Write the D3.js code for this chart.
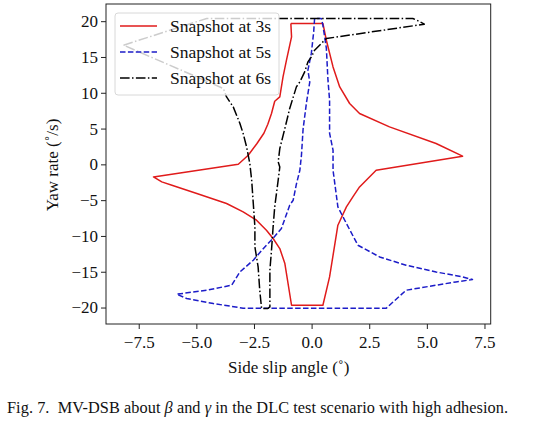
<!DOCTYPE html>
<html>
<head>
<meta charset="utf-8">
<script src="https://cdn.jsdelivr.net/npm/d3@7/dist/d3.min.js"></script>
<style>
  html, body { margin: 0; padding: 0; background: #fff; }
  svg { display: block; }
</style>
</head>
<body>
<svg id="chart" width="536" height="426" font-family="Liberation Serif, Times New Roman, serif"></svg>
<script>
// ---- Data ----
const seriesNames = ["Snapshot at 3s", "Snapshot at 5s", "Snapshot at 6s"];

// Snapshot at 3s (red, solid) - closed boundary
const redX = [-0.90, -0.87, -1.09, -1.24, -1.38, -1.60, -1.74, -1.90, -2.07, -2.37, -2.75, -3.18,
  -6.86, -6.50, -6.06, -4.98, -3.69, -2.97, -2.39, -1.96, -1.67, -1.38, -1.16, -0.87,
  0.49, 0.78, 1.14, 1.51, 1.79, 2.08, 2.80, 6.55, 5.40, 3.38, 2.08, 1.65, 1.22, 0.93, 0.64, 0.49, -0.90];
const redY = [19.68, 17.81, 14.55, 12.22, 9.42, 8.82, 7.10, 5.61, 4.35, 2.91, 1.28, 0.02,
  -1.75, -2.45, -2.91, -4.07, -5.47, -6.64, -7.80, -9.20, -10.36, -11.76, -13.85, -19.68,
  -19.68, -15.72, -8.50, -5.94, -4.55, -3.15, -0.82, 1.14, 2.91, 5.23, 7.10, 8.50, 10.82, 13.61, 17.34, 19.68, 19.68];

// Snapshot at 5s (blue, dashed)
const blueX = [0.13, 0.09, -0.01, -0.16, -0.08, -0.22, -0.37, -0.44, -0.51, -0.66, -0.80, -0.95,
  -1.31, -1.67, -2.03, -2.53, -3.11, -3.47, -4.55, -5.85, -5.42, -4.26, -2.97, 3.24, 3.38,
  4.10, 6.26, 6.98, 6.55, 5.40, 4.10, 2.95, 2.01, 1.51, 1.14, 0.93, 0.93, 0.78, 0.78, 0.71, 0.64, 0.49, 0.42, 0.13];
const blueY = [20.38, 18.50, 15.53, 13.15, 11.48, 8.68, 4.91, 1.28, -0.82, -2.77, -5.01, -5.71,
  -8.96, -10.32, -11.53, -13.39, -15.03, -16.88, -17.58, -18.14, -18.74, -19.44, -20.10, -20.10, -19.68,
  -17.58, -16.42, -16.09, -15.72, -15.03, -14.09, -12.93, -11.30, -8.26, -5.94, -0.82, 1.98, 4.35, 8.96, 11.76, 16.23, 19.44, 20.38, 20.38];

// Snapshot at 6s (black, dash-dot)
const blackX = [-8.16, -4.55, 4.39, 4.62, 4.89, 0.64, 0.49, 0.13, -0.01, -0.16, -0.30, -0.51, -0.66,
  -0.95, -1.16, -1.38, -1.45, -1.38, -1.45, -1.60, -1.67, -1.74, -1.81, -1.81, -1.90,
  -2.17, -2.25, -2.32, -2.46, -2.46, -2.53, -2.60, -2.68, -2.82, -2.97, -3.11, -3.40, -3.69, -3.83, -8.16];
const blackY = [16.65, 20.38, 20.38, 20.05, 19.58, 17.58, 17.11, 15.95, 15.01, 14.31, 12.92, 11.52, 10.82,
  7.80, 5.01, 2.21, 0.34, -0.36, -2.21, -5.94, -8.74, -11.99, -14.79, -19.91, -20.14,
  -20.14, -17.58, -14.33, -11.53, -8.74, -5.47, -2.21, 0.12, 2.44, 4.31, 5.71, 8.03, 9.42, 10.60, 16.65];

const xTicks = [-7.5, -5.0, -2.5, 0.0, 2.5, 5.0, 7.5];
const yTicks = [-20, -15, -10, -5, 0, 5, 10, 15, 20];

// ---- Layout ----
const FONT = "Liberation Serif, Times New Roman, serif";
const svg = d3.select("#chart");
const plot = { left: 106, right: 490.7, top: 4, bottom: 324 };

const x = d3.scaleLinear().domain([-8.92, 7.77]).range([plot.left, plot.right]);
const y = d3.scaleLinear().domain([-22.3, 22.4]).range([plot.bottom, plot.top]);

const series = [
  { name: seriesNames[0], xs: redX, ys: redY, color: "#e01b1b", dash: null },
  { name: seriesNames[1], xs: blueX, ys: blueY, color: "#1c1cc8", dash: "5.5,2.4" },
  { name: seriesNames[2], xs: blackX, ys: blackY, color: "#000000", dash: "9.6,2.4,1.5,2.4" }
];

const line = d3.line().x(d => x(d[0])).y(d => y(d[1]));

const g = svg.append("g");
g.append("clipPath").attr("id", "clip").append("rect")
  .attr("x", plot.left).attr("y", plot.top)
  .attr("width", plot.right - plot.left).attr("height", plot.bottom - plot.top);

series.forEach(s => {
  const pts = s.xs.map((v, i) => [v, s.ys[i]]);
  g.append("path")
    .attr("d", line(pts))
    .attr("fill", "none")
    .attr("stroke", s.color)
    .attr("stroke-width", 1.5)
    .attr("stroke-linejoin", "round")
    .attr("stroke-dasharray", s.dash)
    .attr("clip-path", "url(#clip)");
});

// Axes
const fmt = d3.format(".1f");
const minus = s => s.replace("-", "\u2212");

const xAxis = d3.axisBottom(x).tickValues(xTicks).tickSize(5).tickPadding(3)
  .tickFormat(d => minus(fmt(d)));
const yAxis = d3.axisLeft(y).tickValues(yTicks).tickSize(5).tickPadding(3)
  .tickFormat(d => minus(String(d)));

const gx = svg.append("g").attr("transform", `translate(0,${plot.bottom})`).call(xAxis);
const gy = svg.append("g").attr("transform", `translate(${plot.left},0)`).call(yAxis);
[gx, gy].forEach(a => {
  a.attr("font-family", FONT).attr("font-size", 17);
  a.select(".domain").remove();
  a.selectAll(".tick line").attr("stroke", "#222").attr("stroke-width", 1);
  a.selectAll(".tick text").attr("fill", "#111").attr("font-family", FONT).attr("font-size", 17);
});
gx.selectAll(".tick text").attr("dy", "0.95em");

// Frame
svg.append("rect")
  .attr("x", plot.left).attr("y", plot.top)
  .attr("width", plot.right - plot.left).attr("height", plot.bottom - plot.top)
  .attr("fill", "none").attr("stroke", "#222").attr("stroke-width", 1);

// Legend
const leg = svg.append("g").attr("font-family", FONT);
leg.append("rect")
  .attr("x", 115).attr("y", 13).attr("width", 164).attr("height", 82)
  .attr("rx", 3).attr("fill", "#fff").attr("fill-opacity", 0.8)
  .attr("stroke", "#d8d8d8").attr("stroke-width", 1);
const rowY = [26, 52, 78];
series.forEach((s, i) => {
  leg.append("line")
    .attr("x1", 120).attr("x2", 157).attr("y1", rowY[i]).attr("y2", rowY[i])
    .attr("stroke", s.color).attr("stroke-width", 1.5)
    .attr("stroke-dasharray", s.dash);
  leg.append("text")
    .attr("x", 170).attr("y", rowY[i]).attr("dy", "0.33em")
    .attr("font-family", FONT).attr("fill", "#111")
    .attr("font-size", 17.5).text(s.name);
});

// Axis labels
svg.append("text")
  .attr("x", 228).attr("y", 373).attr("font-size", 17).attr("font-family", FONT).attr("fill", "#111")
  .text("Side slip angle (\u02DA)");
svg.append("text")
  .attr("transform", "translate(58,165) rotate(-90)")
  .attr("text-anchor", "middle").attr("font-size", 17).attr("font-family", FONT).attr("fill", "#111")
  .text("Yaw rate (\u02DA/s)");

// Caption
const cap = svg.append("text").attr("x", 7).attr("y", 413).attr("font-size", 16.3)
  .attr("font-family", FONT).attr("fill", "#111")
  .attr("textLength", 501).attr("lengthAdjust", "spacing");
cap.append("tspan").text("Fig. 7.\u00A0\u00A0MV-DSB about ");
cap.append("tspan").attr("font-style", "italic").text("\u03B2");
cap.append("tspan").text(" and ");
cap.append("tspan").attr("font-style", "italic").text("\u03B3");
cap.append("tspan").text(" in the DLC test scenario with high adhesion.");
</script>
</body>
</html>
